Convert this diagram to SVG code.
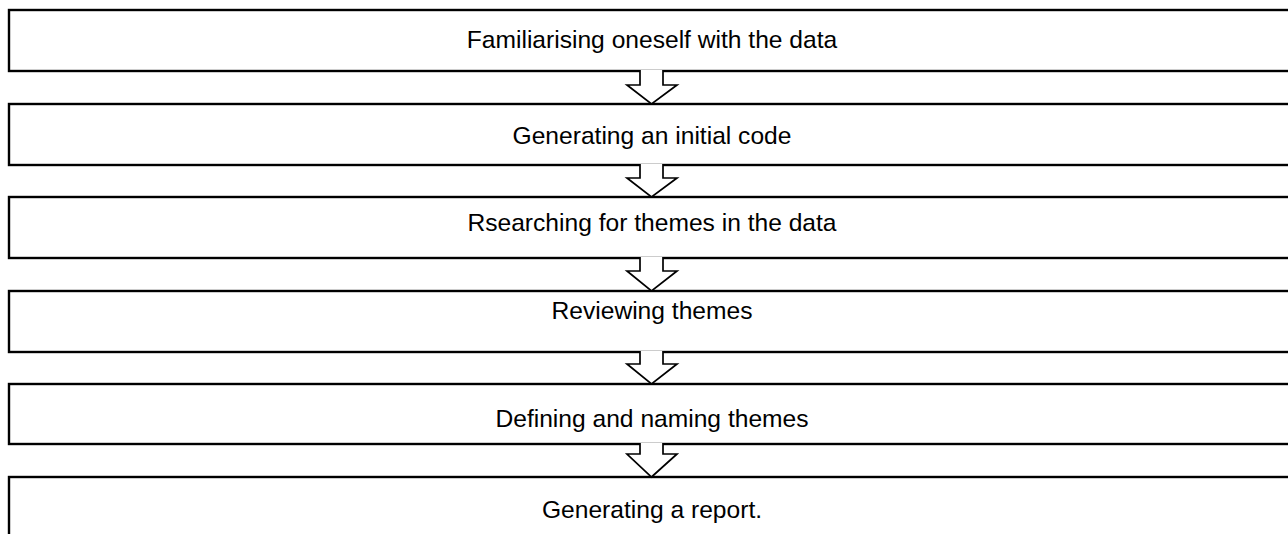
<svg xmlns="http://www.w3.org/2000/svg" width="1288" height="534" viewBox="0 0 1288 534">
<style>
.box{fill:#fff;stroke:#000;stroke-width:2.4}
.lbl{font-family:"Liberation Sans",Arial,sans-serif;font-size:24.6px;fill:#000;text-anchor:middle}
.arr{fill:#fff;stroke:#000;stroke-width:1.7;stroke-linejoin:miter}
</style>
<rect width="1288" height="534" fill="#fff"/>
<g id="n1"><rect class="box" x="9" y="10" width="1300" height="61"/><text class="lbl" x="652" y="48">Familiarising oneself with the data</text></g>
<g id="n2"><rect class="box" x="9" y="104" width="1300" height="61"/><text class="lbl" x="652" y="144">Generating an initial code</text></g>
<g id="n3"><rect class="box" x="9" y="197" width="1300" height="61"/><text class="lbl" x="652" y="231">Rsearching for themes in the data</text></g>
<g id="n4"><rect class="box" x="9" y="291" width="1300" height="61"/><text class="lbl" x="652" y="319">Reviewing themes</text></g>
<g id="n5"><rect class="box" x="9" y="384" width="1300" height="60"/><text class="lbl" x="652" y="427">Defining and naming themes</text></g>
<g id="n6"><rect class="box" x="9" y="477" width="1300" height="80"/><text class="lbl" x="652" y="518">Generating a report.</text></g>
<g id="connectors">
<path class="arr" d="M640,70 L640,85 L627,85 L651.5,104 L677,85 L663,85 L663,70"/>
<path class="arr" d="M640,164 L640,178 L627,178 L651.5,197 L677,178 L663,178 L663,164"/>
<path class="arr" d="M640,257 L640,271 L627,271 L651.5,291 L677,271 L663,271 L663,257"/>
<path class="arr" d="M640,351 L640,364 L627,364 L651.5,384 L677,364 L663,364 L663,351"/>
<path class="arr" d="M640,443 L640,454 L627,454 L651.5,477 L677,454 L663,454 L663,443"/>
</g>
</svg>
